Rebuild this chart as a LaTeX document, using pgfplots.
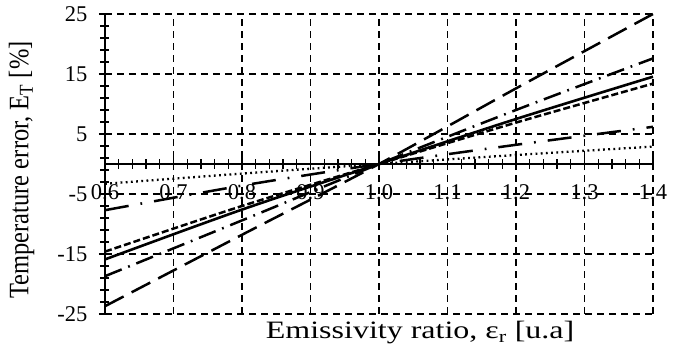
\documentclass[border=0pt]{standalone}
\usepackage{fontspec}
\usepackage{graphicx}
\setmainfont{Liberation Serif}
\newfontfamily\xlfont{Liberation Serif}[FakeStretch=1.28]
\newfontfamily\ylfont{Liberation Serif}
\usepackage{pgfplots}
\pgfplotsset{compat=1.18}
\begin{document}
\begin{tikzpicture}
\begin{axis}[name=ax, scale only axis, width=548pt, height=300pt,
  xmin=0.6, xmax=1.4, ymin=-25, ymax=25,
  axis x line=middle, axis y line=left,
  axis line style={-, line width=1.5pt, black},
  hide obscured x ticks=false, hide obscured y ticks=false,
  xtick={0.6,0.7,...,1.41}, ytick={-25,-15,-5,5,15,25},
  minor x tick num=4, minor y tick num=4,
  tick align=center, major tick length=12pt, minor tick length=9pt,
  tick style={black, line width=1.3pt},
  grid=major, grid style={black, line width=1.5pt, dash pattern=on 7pt off 5pt},
  xticklabel style={/pgf/number format/fixed, /pgf/number format/fixed zerofill,
    /pgf/number format/precision=1, /pgf/number format/assume math mode=true,
    font=\fontsize{22.5}{25}\selectfont, anchor=north, yshift=-11pt},
  yticklabel style={/pgf/number format/assume math mode=true,
    font=\fontsize{22.5}{25}\selectfont, anchor=east, xshift=-8pt},
  every axis x label/.style={at={(axis description cs:0.575,0)}, anchor=north, yshift=-4pt,
    font=\fontsize{25}{27}\selectfont\xlfont},
  every axis y label/.style={at={(axis description cs:-0.152,0.48)}, rotate=90, anchor=center,
    font=\fontsize{24.5}{26}\selectfont\ylfont},
  xlabel={Emissivity ratio, ε\textsubscript{r} [u.a]},
  ylabel={\scalebox{1}[1.15]{Temperature error, E\textsubscript{T} [\%]}},
  clip=false,
]
% long dash
\addplot[black, line width=2.5pt, dash pattern=on 21pt off 9pt, smooth] coordinates {
 (0.6,-23.7) (0.8,-11.8) (1.0,0) (1.2,12.6) (1.4,25)};
% dash-dot upper
\addplot[black, line width=2.5pt, dash pattern=on 18pt off 7pt on 1.8pt off 7pt, smooth] coordinates {
 (0.6,-18.7) (0.8,-9.4) (1.0,0) (1.2,9.0) (1.4,17.6)};
% solid
\addplot[black, line width=2.6pt, smooth] coordinates {
 (0.6,-15.9) (0.8,-7.6) (1.0,0) (1.2,7.5) (1.4,14.55)};
% short dash
\addplot[black, line width=2.5pt, dash pattern=on 7pt off 3pt, smooth] coordinates {
 (0.6,-14.6) (0.8,-7.0) (1.0,0) (1.2,6.9) (1.4,13.4)};
% dash-dot lower
\addplot[black, line width=2.5pt, dash pattern=on 24pt off 12pt on 1.8pt off 12pt, smooth] coordinates {
 (0.6,-7.7) (0.8,-3.6) (1.0,0) (1.2,3.2) (1.4,6.2)};
% dotted
\addplot[black, line width=2.3pt, dash pattern=on 1.8pt off 3.4pt, smooth] coordinates {
 (0.6,-3.3) (0.8,-1.6) (1.0,0) (1.2,1.5) (1.4,2.9)};
\end{axis}
\pgfresetboundingbox
\path ([xshift=-105pt,yshift=-42pt]ax.south west) rectangle ([xshift=41pt,yshift=14pt]ax.north east);
\end{tikzpicture}
\end{document}
